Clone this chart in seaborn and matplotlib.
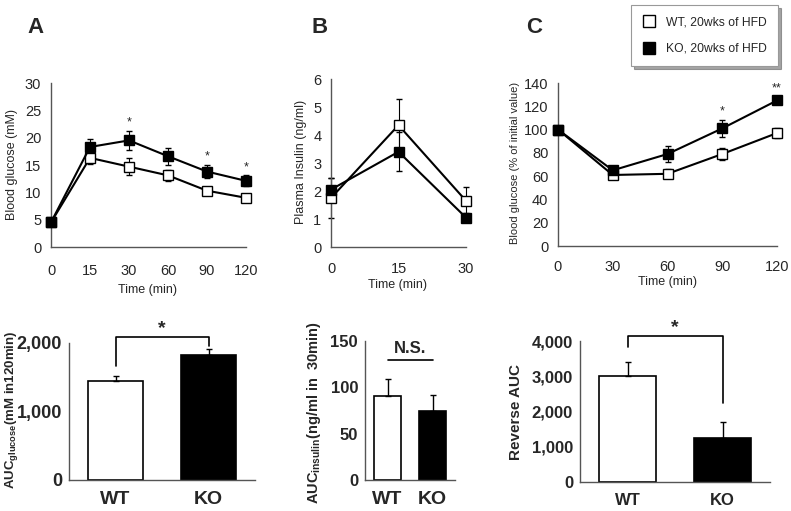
"""
Glucose / insulin tolerance panels, WT vs KO after 20 weeks of HFD
"""
import numpy as np
import pandas as pd
import matplotlib
matplotlib.use("Agg")
import matplotlib.pyplot as plt
from matplotlib.lines import Line2D
import seaborn as sns

# ---- data ----
gtt_times = ["0", "15", "30", "60", "90", "120"]
gtt_wt = [4.5, 16.3, 14.7, 13.1, 10.3, 9.0]
gtt_wt_err = [0.4, 1.2, 1.5, 1.0, 0.5, 0.5]
gtt_ko = [4.5, 18.3, 19.5, 16.6, 13.8, 12.1]
gtt_ko_err = [0.4, 1.4, 1.7, 1.6, 1.2, 1.0]
gtt_stars = {"30": "*", "90": "*", "120": "*"}

ins_times = [0, 15, 30]
ins_wt = [1.75, 4.35, 1.65]
ins_wt_err = [0.7, 0.95, 0.5]
ins_ko = [2.05, 3.4, 1.05]
ins_ko_err = [0.4, 0.7, 0.17]

itt_times = [0, 30, 60, 90, 120]
itt_wt = [100, 61, 62, 79, 97]
itt_wt_err = [0, 2, 4, 5, 4]
itt_ko = [100, 65, 79, 101, 125]
itt_ko_err = [0, 4, 7, 7, 3]
itt_stars = {90: "*", 120: "**"}

groups = ["WT", "KO"]
auc_glucose = [1450, 1830]
auc_glucose_err = [70, 80]
auc_insulin = [91, 75]
auc_insulin_err = [18, 17]
reverse_auc = [3000, 1250]
reverse_auc_err = [400, 450]

W, H = 791, 511
FONT = "Liberation Sans"
SPINE = "#555555"

sns.set_style("white")
plt.rcParams["font.family"] = [FONT, "DejaVu Sans"]
plt.rcParams["mathtext.fontset"] = "custom"
plt.rcParams["mathtext.rm"] = FONT

fig = plt.figure(figsize=(W / 100, H / 100), dpi=100)


def px(l, t, r, b):
    return [l / W, 1 - b / H, (r - l) / W, (b - t) / H]


def style(ax, fs=10, bold=False, xpad=4, ypad=4):
    sns.despine(ax=ax)
    for s in ("left", "bottom"):
        ax.spines[s].set_color(SPINE)
        ax.spines[s].set_linewidth(1.0)
    ax.tick_params(direction="in", length=3, width=0.8, color=SPINE,
                   labelsize=fs)
    ax.tick_params(axis="x", pad=xpad)
    ax.tick_params(axis="y", pad=ypad)
    if bold:
        for lab in ax.get_xticklabels() + ax.get_yticklabels():
            lab.set_fontweight("bold")


def time_course(ax, x, wt, wt_err, ko, ko_err):
    df = pd.DataFrame({"x": list(x) * 2, "y": list(wt) + list(ko),
                       "g": ["WT"] * len(wt) + ["KO"] * len(ko)})
    ax.errorbar(x, wt, yerr=wt_err, fmt="none", ecolor="black",
                elinewidth=0.8, capsize=2, zorder=1, clip_on=False)
    ax.errorbar(x, ko, yerr=ko_err, fmt="none", ecolor="black",
                elinewidth=0.8, capsize=2, zorder=1, clip_on=False)
    for g, fc in (("WT", "white"), ("KO", "black")):
        sub = df[df.g == g]
        sns.lineplot(data=sub, x="x", y="y", ax=ax, color="black",
                     linewidth=1.5, marker="s", markersize=7,
                     markerfacecolor=fc, markeredgecolor="black",
                     markeredgewidth=1.0, zorder=3, clip_on=False)


def place_label(ax, label, cx, cy, fs, bold=False, axis="y"):
    """put an axis label centred on a figure pixel position"""
    bb = ax.get_position()
    x = (cx / W - bb.x0) / bb.width
    y = ((1 - cy / H) - bb.y0) / bb.height
    if axis == "y":
        ax.set_ylabel(label, fontsize=fs,
                      fontweight="bold" if bold else "normal")
        ax.yaxis.set_label_coords(x, y)
        ax.yaxis.label.set_va("center")
    else:
        ax.set_xlabel(label, fontsize=fs)
        ax.xaxis.set_label_coords(x, y)
        ax.xaxis.label.set_va("center")


# ---- A top: GTT ----
axA = fig.add_axes(px(51, 83, 246, 247))
xa = np.arange(len(gtt_times))
time_course(axA, xa, gtt_wt, gtt_wt_err, gtt_ko, gtt_ko_err)
axA.set_xlim(0, len(gtt_times) - 1)
axA.set_xticks(xa)
axA.set_xticklabels(gtt_times)
axA.set_ylim(0, 30)
axA.set_yticks(range(0, 31, 5))
place_label(axA, "Blood glucose (mM)", 12, 165, 9)
place_label(axA, "Time (min)", 148, 290, 9, axis="x")
for t, s in gtt_stars.items():
    i = gtt_times.index(t)
    top = gtt_ko[i] + gtt_ko_err[i]
    axA.text(i, top + 0.4, s, ha="center", va="bottom", fontsize=9)
style(axA, fs=10.5, xpad=12, ypad=7)

# ---- B top: insulin ----
axB = fig.add_axes(px(331, 79, 466, 247))
time_course(axB, ins_times, ins_wt, ins_wt_err, ins_ko, ins_ko_err)
axB.set_xlim(0, 30)
axB.set_xticks([0, 15, 30])
axB.set_xticks([7.5, 22.5], minor=True)
axB.tick_params(axis="x", which="minor", direction="in", length=3,
                color=SPINE)
axB.set_ylim(0, 6)
axB.set_yticks(range(0, 7))
place_label(axB, "Plasma Insulin (ng/ml)", 301, 162, 9)
place_label(axB, "Time (min)", 398, 285, 9, axis="x")
style(axB, fs=10.5, xpad=11, ypad=7)

# ---- C top: ITT ----
axC = fig.add_axes(px(558, 83, 777, 246))
time_course(axC, itt_times, itt_wt, itt_wt_err, itt_ko, itt_ko_err)
axC.set_xlim(0, 120)
axC.set_xticks(itt_times)
axC.set_ylim(0, 140)
axC.set_yticks(range(0, 141, 20))
place_label(axC, "Blood glucose (% of initial value)", 515, 163, 8)
place_label(axC, "Time (min)", 668, 282, 9, axis="x")
for t, s in itt_stars.items():
    i = itt_times.index(t)
    top = itt_ko[i] + itt_ko_err[i]
    axC.text(t, top + 2, s, ha="center", va="bottom", fontsize=9)
style(axC, fs=10.5, xpad=10, ypad=7)


# ---- bottom bar panels ----
def bar_panel(rect, vals, errs, ylim, yticks, tick_fs, cat_fs):
    ax = fig.add_axes(px(*rect))
    df = pd.DataFrame({"g": groups, "v": vals})
    sns.barplot(data=df, x="g", y="v", hue="g", palette=["white", "black"],
                edgecolor="black", linewidth=1.2, width=0.6, legend=False,
                ax=ax)
    ax.errorbar([0, 1], vals, yerr=[[0, 0], errs], fmt="none",
                ecolor="black", elinewidth=1.0, capsize=2.5, zorder=4)
    ax.set_xlim(-0.5, 1.5)
    ax.set_ylim(*ylim)
    ax.set_yticks(yticks)
    ax.set_yticklabels([f"{v:,}" for v in yticks])
    ax.set_xticks([0.5], minor=True)
    ax.tick_params(axis="x", which="minor", direction="in", length=3,
                   color=SPINE)
    ax.set_xlabel("")
    style(ax, fs=tick_fs, bold=True, ypad=5)
    ax.tick_params(axis="x", which="major", length=0, pad=8,
                   labelsize=cat_fs)
    return ax


def bracket(ax, y, y_left, y_right, text, fs=14):
    ax.plot([0, 0, 1, 1], [y_left, y, y, y_right], color="black", lw=1.2,
            clip_on=False)
    ax.text(0.5, y, text, ha="center", va="bottom", fontsize=fs,
            fontweight="bold")


axD = bar_panel((69, 343, 255, 480), auc_glucose, auc_glucose_err,
                (0, 2000), [0, 1000, 2000], 13, 14)
place_label(axD, r"AUC$_{\mathregular{glucose}}$(mM in120min)", 12, 410,
            9.5, bold=True)
bracket(axD, 2090, 1660, 1950, "*")

axE = bar_panel((365, 341, 455, 480), auc_insulin, auc_insulin_err,
                (0, 150), [0, 50, 100, 150], 12, 14)
place_label(axE, r"AUC$_{\mathregular{insulin}}$(ng/ml in  30min)", 314,
            413, 10.5, bold=True)
axE.plot([0, 1], [129, 129], color="black", lw=1.2)
axE.text(0.5, 134, "N.S.", ha="center", va="bottom", fontsize=12,
         fontweight="bold")

axF = bar_panel((580, 341, 770, 482), reverse_auc, reverse_auc_err,
                (0, 4000), [0, 1000, 2000, 3000, 4000], 12, 12)
place_label(axF, "Reverse AUC", 516, 412, 11, bold=True)
bracket(axF, 4150, 3820, 2250, "*")

# ---- panel letters ----
for x, lab in ((35, "A"), (320, "B"), (534, "C")):
    fig.text(x / W, 1 - 27 / H, lab, ha="center", va="center",
             fontsize=16, fontweight="bold")

# ---- legend ----
handles = [
    Line2D([], [], ls="none", marker="s", markersize=8,
           markerfacecolor="white", markeredgecolor="black"),
    Line2D([], [], ls="none", marker="s", markersize=8,
           markerfacecolor="black", markeredgecolor="black"),
]
leg = fig.legend(handles, ["WT, 20wks of HFD", "KO, 20wks of HFD"],
                 loc="upper right", bbox_to_anchor=(778 / W, 1 - 5 / H),
                 borderaxespad=0, fontsize=8.7, frameon=True,
                 fancybox=False, shadow=True, handletextpad=0.9,
                 labelspacing=1.2, borderpad=0.95, handlelength=1.0)
leg.get_frame().set_edgecolor("#999999")
leg.get_frame().set_linewidth(0.8)

fig.savefig("out.png", dpi=100)
